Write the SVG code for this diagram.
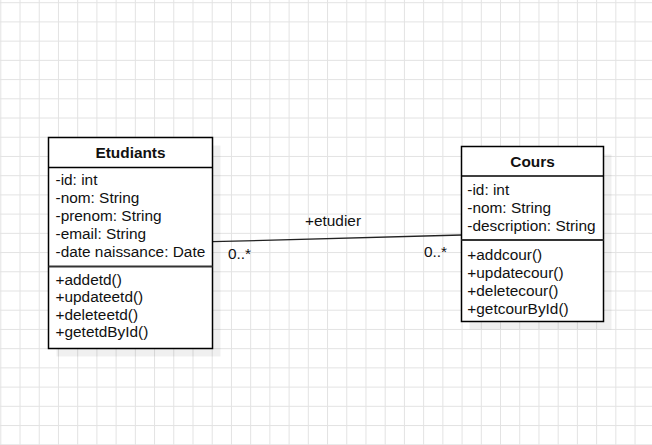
<svg xmlns="http://www.w3.org/2000/svg" width="652" height="445" viewBox="0 0 652 445">
<style>
.grid{stroke:#e3e3e3;stroke-width:1;fill:none}
.box{fill:#fff;stroke:#000;stroke-width:1.5}
.shadow{fill:#000;fill-opacity:0.06}
.div{stroke:#000;stroke-width:1.5}
.div2{stroke:#333;stroke-width:2}
text{font-family:"Liberation Sans",Arial,sans-serif;font-size:15.4px;fill:#111}
.title{font-weight:bold;text-anchor:middle}
.edge{stroke:#222;stroke-width:1.3;fill:none}
</style>
<rect width="652" height="445" fill="#fff"/>
<path class="grid" d="M0.8 0V445M20.02 0V445M39.24 0V445M58.46 0V445M77.68 0V445M96.9 0V445M116.12 0V445M135.34 0V445M154.56 0V445M173.78 0V445M193 0V445M212.22 0V445M231.44 0V445M250.66 0V445M269.88 0V445M289.1 0V445M308.32 0V445M327.54 0V445M346.76 0V445M365.98 0V445M385.2 0V445M404.42 0V445M423.64 0V445M442.86 0V445M462.08 0V445M481.3 0V445M500.52 0V445M519.74 0V445M538.96 0V445M558.18 0V445M577.4 0V445M596.62 0V445M615.84 0V445M635.06 0V445M0 2.7H652M0 21.92H652M0 41.14H652M0 60.36H652M0 79.58H652M0 98.8H652M0 118.02H652M0 137.24H652M0 156.46H652M0 175.68H652M0 194.9H652M0 214.12H652M0 233.34H652M0 252.56H652M0 271.78H652M0 291H652M0 310.22H652M0 329.44H652M0 348.66H652M0 367.88H652M0 387.1H652M0 406.32H652M0 425.54H652M0 444.76H652"/>
<g id="connectors">
<line class="edge" x1="212.5" y1="241.7" x2="461.5" y2="235"/>
<text x="333" y="226" text-anchor="middle">+etudier</text>
<text x="228" y="259">0..*</text>
<text x="424" y="256.5">0..*</text>
</g>
<g id="etudiants">
<rect class="shadow" x="56.5" y="145.5" width="164" height="211"/>
<rect class="box" x="48.5" y="137.5" width="164" height="211"/>
<line class="div" x1="48.5" y1="167.5" x2="212.5" y2="167.5"/>
<line class="div2" x1="48.5" y1="266.5" x2="212.5" y2="266.5"/>
<text class="title" x="130.5" y="157.8">Etudiants</text>
<text x="55.5" y="185">-id: int</text>
<text x="55.5" y="203">-nom: String</text>
<text x="55.5" y="221">-prenom: String</text>
<text x="55.5" y="239">-email: String</text>
<text x="55.5" y="257">-date naissance: Date</text>
<text x="55.5" y="284.5">+addetd()</text>
<text x="55.5" y="302">+updateetd()</text>
<text x="55.5" y="319.5">+deleteetd()</text>
<text x="55.5" y="337">+getetdById()</text>
</g>
<g id="cours">
<rect class="shadow" x="469.5" y="154.5" width="142" height="175"/>
<rect class="box" x="461.5" y="146.5" width="142" height="175"/>
<line class="div" x1="461.5" y1="176" x2="603.5" y2="176"/>
<line class="div2" x1="461.5" y1="240" x2="603.5" y2="240"/>
<text class="title" x="532.5" y="167">Cours</text>
<text x="467.3" y="195">-id: int</text>
<text x="467.3" y="212.7">-nom: String</text>
<text x="467.3" y="231">-description: String</text>
<text x="467.3" y="260">+addcour()</text>
<text x="467.3" y="278">+updatecour()</text>
<text x="467.3" y="295.5">+deletecour()</text>
<text x="467.3" y="313.5">+getcourById()</text>
</g>
</svg>
